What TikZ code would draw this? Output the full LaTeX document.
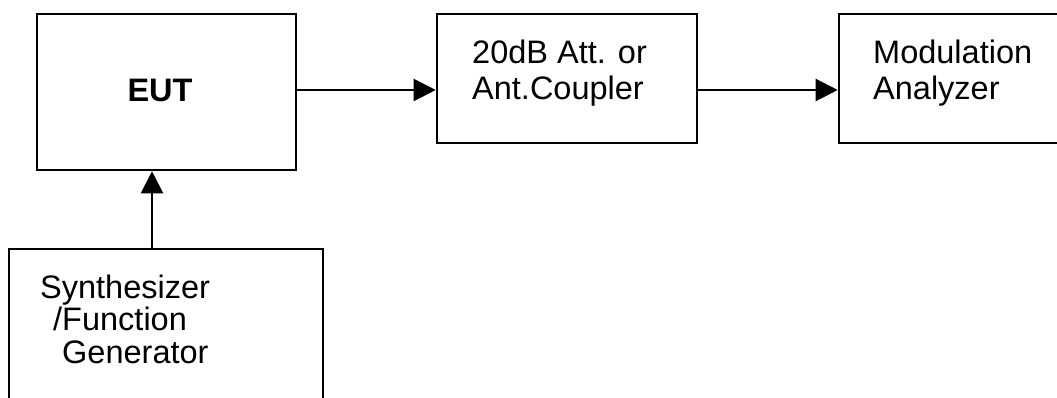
\documentclass[tikz,border=0pt]{standalone}
\usepackage{fontspec}
\setmainfont{Liberation Sans}
\usetikzlibrary{arrows.meta}
\begin{document}
\begin{tikzpicture}[x=1pt,y=-1pt,
  box/.style={draw, line width=2.6pt, rectangle, inner sep=0pt},
  lbl/.style={font=\fontsize{32.5}{36}\selectfont, align=left, inner sep=0pt, anchor=base west},
  conn/.style={line width=2.2pt, -{Triangle[length=22pt,width=22pt]}}]
\useasboundingbox (0,0) rectangle (1057,398);
\clip (0,0) rectangle (1057,398);
\node[box, minimum width=259pt, minimum height=156pt] (eut) at (166.5,92) {};
\node[box, minimum width=260pt, minimum height=129pt] (att) at (567,78.5) {};
\node[box, minimum width=260pt, minimum height=129pt] (mod) at (969,78.5) {};
\node[box, minimum width=314pt, minimum height=200pt] (syn) at (166,349) {};
\node[lbl, font=\fontsize{32.5}{36}\selectfont\bfseries, anchor=base] (teut) at (160,102) {EUT};
\node[lbl] (tatt) at (472,100) {20dB Att. or\\Ant.Coupler};
\node[lbl] (tmod) at (873,100) {Modulation\\Analyzer};
\node[lbl, font=\fontsize{32.5}{32.5}\selectfont] (tsyn) at (40,363) {Synthesizer\\\hspace*{13pt}/Function\\\hspace*{22pt}Generator};
\coordinate (h) at (0,90);
\coordinate (v) at (152,0);
\draw[conn] (eut.east |- h) -- (att.west |- h);
\draw[conn] (att.east |- h) -- (mod.west |- h);
\draw[conn] (syn.north -| v) -- (eut.south -| v);
\end{tikzpicture}
\end{document}
